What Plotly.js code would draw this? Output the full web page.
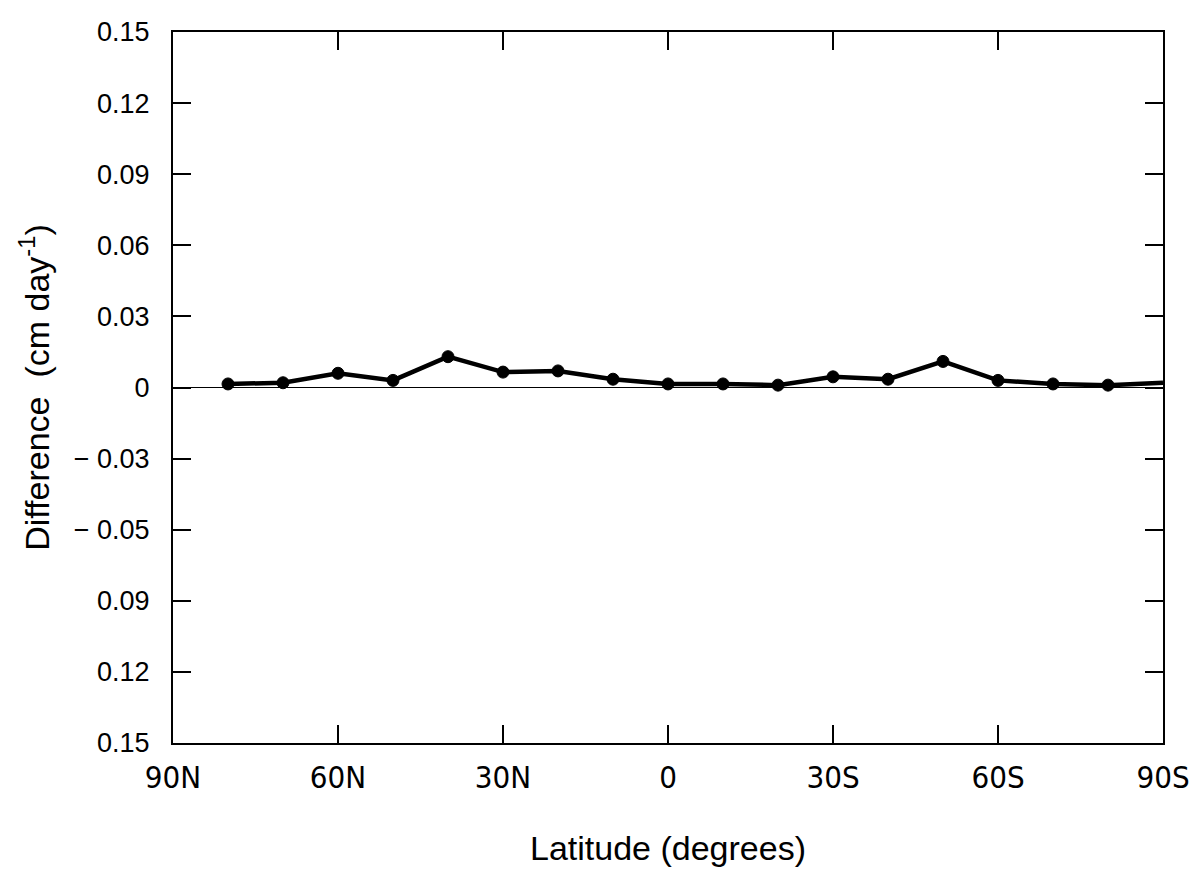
<!DOCTYPE html>
<html>
<head>
<meta charset="utf-8">
<script src="https://cdn.plot.ly/plotly-3.0.1.min.js"></script>
<style>
html,body{margin:0;padding:0;background:#fff;}
#chart{width:1192px;height:875px;}
</style>
</head>
<body>
<div id="chart"></div>
<script>
// Latitude (degrees, N positive) and difference values (cm/day)
const latitudes = [80, 70, 60, 50, 40, 30, 20, 10, 0, -10, -20, -30, -40, -50, -60, -70, -80, -90];
const differences = [0.0015, 0.002, 0.006, 0.003, 0.013, 0.0065, 0.007, 0.0035, 0.0015, 0.0015, 0.001, 0.0045, 0.0035, 0.011, 0.003, 0.0015, 0.001, 0.002];
const markerShown = [1,1,1,1,1,1,1,1,1,1,1,1,1,1,1,1,1,0];

const xTickVals = [90, 60, 30, 0, -30, -60, -90];
const xTickText = ["90N", "60N", "30N", "0", "30S", "60S", "90S"];
const yTickVals = [-0.15, -0.12, -0.09, -0.06, -0.03, 0, 0.03, 0.06, 0.09, 0.12, 0.15];
const yTickText = ["0.15", "0.12", "0.09", "\u2212 0.05", "\u2212 0.03", "0", "0.03", "0.06", "0.09", "0.12", "0.15"];

const lineTrace = {
  x: latitudes,
  y: differences,
  type: 'scatter',
  mode: 'lines',
  line: {color: '#000', width: 4.5},
  hoverinfo: 'skip'
};

const markerTrace = {
  x: latitudes.filter((_, i) => markerShown[i]),
  y: differences.filter((_, i) => markerShown[i]),
  type: 'scatter',
  mode: 'markers',
  marker: {color: '#000', size: 12, opacity: 1, line: {color: '#000', width: 1}},
  hoverinfo: 'skip'
};

const layout = {
  width: 1192,
  height: 875,
  margin: {l: 173, r: 29, t: 32, b: 132},
  paper_bgcolor: '#fff',
  plot_bgcolor: '#fff',
  showlegend: false,
  xaxis: {
    range: [90, -90],
    tickvals: xTickVals,
    ticktext: xTickText,
    ticks: 'inside',
    ticklen: 18,
    tickwidth: 2,
    tickcolor: '#000',
    showline: true,
    linecolor: '#000',
    linewidth: 2,
    mirror: 'ticks',
    showgrid: false,
    zeroline: false,
    ticklabelstandoff: 6,
    tickfont: {family: '"Liberation Sans Narrow", "DejaVu Sans Condensed", sans-serif', size: 31, color: '#000'},
    title: {text: 'Latitude (degrees)', standoff: 42,
            font: {family: '"Liberation Sans", "DejaVu Sans", sans-serif', size: 34, color: '#000'}}
  },
  yaxis: {
    range: [-0.15, 0.15],
    tickvals: yTickVals,
    ticktext: yTickText,
    ticks: 'inside',
    ticklen: 18,
    tickwidth: 2,
    tickcolor: '#000',
    showline: true,
    linecolor: '#000',
    linewidth: 2,
    mirror: 'ticks',
    showgrid: false,
    zeroline: true,
    zerolinecolor: '#000',
    zerolinewidth: 1.5,
    ticklabelstandoff: 16,
    tickfont: {family: '"Liberation Sans", "DejaVu Sans", sans-serif', size: 27, color: '#000'},
    title: {text: 'Difference  (cm day<sup>-1</sup>)', standoff: 14,
            font: {family: '"Liberation Sans", "DejaVu Sans", sans-serif', size: 34, color: '#000'}}
  }
};

Plotly.newPlot('chart', [lineTrace, markerTrace], layout, {staticPlot: true, displayModeBar: false});
</script>
</body>
</html>
